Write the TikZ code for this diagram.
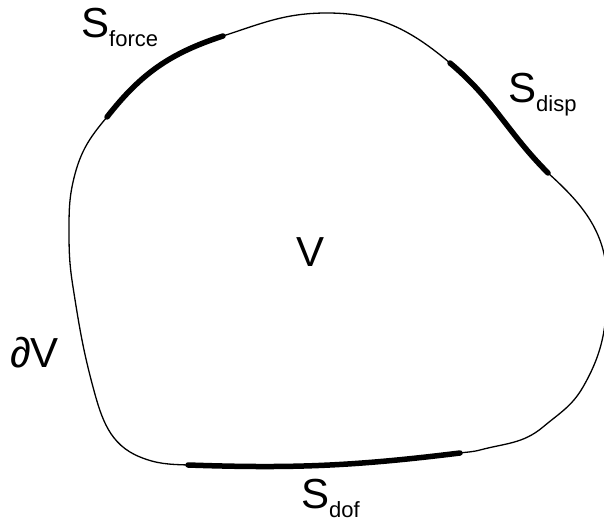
\documentclass[tikz,border=0pt]{standalone}
\usepackage{fontspec}
\setmainfont{Liberation Sans}
\newcommand{\subtxt}[1]{\raisebox{-9pt}{\fontsize{22}{26}\selectfont #1}}

\begin{document}
\begin{tikzpicture}[x=1pt, y=1pt,
    bnd/.style={line width=1.3pt},
    patch/.style={line width=5.5pt, line cap=round},
    lbl/.style={inner sep=0pt, font=\fontsize{42}{48}\selectfont}]
    \useasboundingbox (0,0) rectangle (604,522);
    % ends of the three patches
    \coordinate (f1) at (107,405);
    \coordinate (f2) at (223,486);
    \coordinate (d1) at (450,459);
    \coordinate (d2) at (548,349);
    \coordinate (o1) at (460,69);
    \coordinate (o2) at (188,57);
    % boundary dV
    \draw[bnd] (f1) to[out=52,in=198] (f2) to[out=18,in=180] (327,509)
        to[out=0,in=140] (d1) to[out=-40,in=135] (d2)
        to[out=-42,in=90] (607,240) to[out=-90,in=60] (583,135)
        to[out=-120,in=40] (543,95) to[out=-140,in=15] (480,72)
        to[out=-165,in=8] (o1)
        to[out=187,in=-2] (o2) to[out=178,in=-22] (140,65)
        to[out=158,in=-75] (93,135) to[out=105,in=-81] (73,235)
        to[out=99,in=-90] (69,290) to[out=90,in=-105] (75,348)
        to[out=75,in=-130] (f1);
    % patches
    \draw[patch] (f1) to[out=52,in=198] (f2);
    \draw[patch] (d1) to[out=-40,in=135] (d2);
    \draw[patch] (o1) to[out=187,in=-2] (o2);
    % labels
    \node[lbl, anchor=base] (vol) at (311,255) {V};
    \node[lbl, anchor=base west] (bnd) at (10,155) {∂V};
    \node[lbl, anchor=base west] (force) at (81,484) {S\subtxt{force}};
    \node[lbl, anchor=base west] (disp) at (508,419) {S\subtxt{disp}};
    \node[lbl, anchor=base west] (dof) at (301,14) {S\subtxt{dof}};
\end{tikzpicture}
\end{document}
